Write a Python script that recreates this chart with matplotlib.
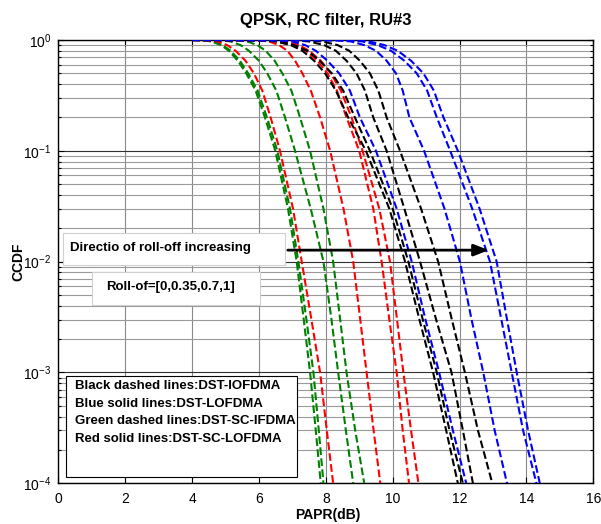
import matplotlib
matplotlib.use('Agg')
import matplotlib.pyplot as plt
from matplotlib.ticker import LogLocator, NullFormatter, MultipleLocator
from matplotlib.patches import Rectangle

plt.rcParams['font.family'] = ['Liberation Sans', 'DejaVu Sans']
plt.rcParams['mathtext.fontset'] = 'custom'
plt.rcParams['mathtext.rm'] = 'Liberation Sans'
plt.rcParams['mathtext.it'] = 'Liberation Sans:italic'
plt.rcParams['mathtext.bf'] = 'Liberation Sans:bold'
plt.rcParams['axes.unicode_minus'] = False

W, H = 601, 524

# CCDF levels shared by every curve, PAPR (dB) for each one
ccdf_levels = [1.0, 0.995, 0.97, 0.9, 0.8, 0.65, 0.5, 0.35, 0.2, 0.1,
               0.03, 0.01, 3e-3, 1e-3, 3e-4, 1e-4]

green_papr = [
    [4.0, 4.3, 4.58, 4.87, 5.1, 5.37, 5.62, 5.9, 6.18, 6.49, 6.87, 7.13, 7.34, 7.53, 7.7, 7.85],
    [4.0, 4.32, 4.62, 4.91, 5.15, 5.43, 5.68, 5.96, 6.24, 6.55, 6.93, 7.18, 7.42, 7.63, 7.79, 7.93],
    [4.0, 4.85, 5.15, 5.45, 5.7, 6.0, 6.25, 6.52, 6.78, 7.08, 7.55, 7.93, 8.17, 8.37, 8.6, 8.82],
    [4.0, 5.35, 5.65, 5.95, 6.2, 6.47, 6.7, 6.97, 7.23, 7.53, 7.93, 8.22, 8.43, 8.62, 8.88, 9.15],
]
red_papr = [
    [4.0, 4.42, 4.75, 5.05, 5.3, 5.6, 5.85, 6.1, 6.35, 6.63, 7.02, 7.28, 7.57, 7.83, 8.03, 8.22],
    [4.0, 5.9, 6.3, 6.6, 6.85, 7.08, 7.3, 7.55, 7.83, 8.13, 8.53, 8.82, 9.03, 9.22, 9.43, 9.63],
    [4.0, 6.3, 6.7, 7.1, 7.4, 7.75, 8.05, 8.33, 8.62, 9.0, 9.42, 9.67, 9.9, 10.12, 10.3, 10.49],
    [4.0, 6.4, 6.8, 7.2, 7.5, 7.85, 8.15, 8.45, 8.77, 9.1, 9.6, 9.92, 10.13, 10.32, 10.55, 10.77],
]
black_papr = [
    [4.0, 6.1, 6.5, 6.95, 7.3, 7.65, 7.98, 8.3, 8.67, 9.2, 9.9, 10.37, 10.8, 11.21, 11.6, 11.95],
    [4.0, 6.2, 6.6, 7.05, 7.45, 7.82, 8.18, 8.52, 8.87, 9.32, 10.0, 10.47, 10.9, 11.32, 11.7, 12.1],
    [4.0, 7.0, 7.5, 7.95, 8.3, 8.62, 8.92, 9.17, 9.42, 9.82, 10.35, 10.82, 11.3, 11.76, 12.1, 12.4],
    [4.0, 7.4, 7.9, 8.35, 8.7, 9.02, 9.32, 9.57, 9.82, 10.22, 10.85, 11.36, 11.77, 12.16, 12.55, 12.98],
]
blue_papr = [
    [4.0, 6.6, 7.0, 7.38, 7.7, 8.05, 8.4, 8.72, 9.02, 9.5, 10.12, 10.57, 10.98, 11.39, 11.8, 12.2],
    [4.0, 8.3, 8.75, 9.15, 9.5, 9.82, 10.1, 10.3, 10.5, 10.94, 11.55, 12.01, 12.36, 12.71, 13.05, 13.42],
    [4.0, 8.6, 9.1, 9.55, 9.95, 10.35, 10.72, 11.03, 11.32, 11.72, 12.38, 12.91, 13.25, 13.56, 13.9, 14.3],
    [4.0, 8.8, 9.3, 9.75, 10.15, 10.55, 10.92, 11.23, 11.52, 11.95, 12.6, 13.11, 13.42, 13.71, 14.05, 14.4],
]

groups = [(green_papr, '#008000'), (red_papr, '#ff0000'),
          (black_papr, '#000000'), (blue_papr, '#0000ff')]

legend_lines = ['Black dashed lines:DST-IOFDMA',
                'Blue solid lines:DST-LOFDMA',
                'Green dashed lines:DST-SC-IFDMA',
                'Red solid lines:DST-SC-LOFDMA']


def fx(px):
    return px / W


def fy(py):
    return 1 - py / H


fig = plt.figure(figsize=(W / 100, H / 100), dpi=100)
ax = fig.add_axes([fx(58.3), fy(483.3), fx(593.3) - fx(58.3), fy(40) - fy(483.3)])

for series, col in groups:
    for xs in series:
        ax.plot(xs, ccdf_levels, '--', color=col, lw=1.5, zorder=3)

ax.set_yscale('log')
ax.set_xlim(0, 16)
ax.set_ylim(1e-4, 1)
ax.xaxis.set_major_locator(MultipleLocator(2))
ax.yaxis.set_major_locator(LogLocator(base=10, numticks=10))
ax.yaxis.set_minor_locator(LogLocator(base=10, subs=range(2, 10), numticks=20))
ax.yaxis.set_minor_formatter(NullFormatter())

ax.grid(True, which='major', axis='x', color='#8a8a8a', lw=0.8)
ax.grid(True, which='major', axis='y', color='#303030', lw=0.8)
ax.grid(True, which='minor', axis='y', color='#9a9a9a', lw=0.8)
ax.set_axisbelow(True)

ax.tick_params(which='both', direction='in', top=True, right=True, labelsize=10)
ax.tick_params(which='major', length=4, width=0.8)
ax.tick_params(which='minor', length=2, width=0.8)
ax.tick_params(axis='x', pad=6)
ax.tick_params(axis='y', pad=5)
for s in ax.spines.values():
    s.set_linewidth(1.0)

fig.text(fx(326), fy(21), 'QPSK, RC filter, RU#3', ha='center', va='center',
         fontsize=12, fontweight='bold')
fig.text(fx(328), fy(515), 'PAPR(dB)', ha='center', va='center',
         fontsize=10, fontweight='bold')
fig.text(fx(18), fy(262), 'CCDF', ha='center', va='center', rotation=90,
         fontsize=10, fontweight='bold')

# annotation boxes
box1 = Rectangle((fx(63), fy(265)), fx(285) - fx(63), fy(232.7) - fy(265),
                 transform=fig.transFigure, facecolor='white', edgecolor='#d0d0d0',
                 lw=0.8, zorder=3)
box2 = Rectangle((fx(92), fy(305)), fx(260) - fx(92), fy(271.7) - fy(305),
                 transform=fig.transFigure, facecolor='white', edgecolor='#d0d0d0',
                 lw=0.8, zorder=3)
box3 = Rectangle((fx(66), fy(477)), fx(297) - fx(66), fy(376) - fy(477),
                 transform=fig.transFigure, facecolor='white', edgecolor='black',
                 lw=0.8, zorder=3)
for b in (box1, box2, box3):
    fig.add_artist(b)

fig.text(fx(70), fy(248.3), 'Directio of roll-off increasing', ha='left', va='center',
         fontsize=9.5, fontweight='bold', zorder=4)
fig.text(fx(106), fy(287), 'Roll-of=[0,0.35,0.7,1]', ha='left', va='center',
         fontsize=9.5, fontweight='bold', zorder=4)
for i, line in enumerate(legend_lines):
    fig.text(fx(75), fy(386 + 17.7 * i), line, ha='left', va='center',
             fontsize=9.5, fontweight='bold', zorder=4)

ax.annotate('', xy=(12.96, 0.0127), xytext=(6.78, 0.0127),
            arrowprops=dict(arrowstyle='-|>,head_length=0.9,head_width=0.35',
                            color='black', lw=2), zorder=5)

fig.savefig('out.png', dpi=100)
